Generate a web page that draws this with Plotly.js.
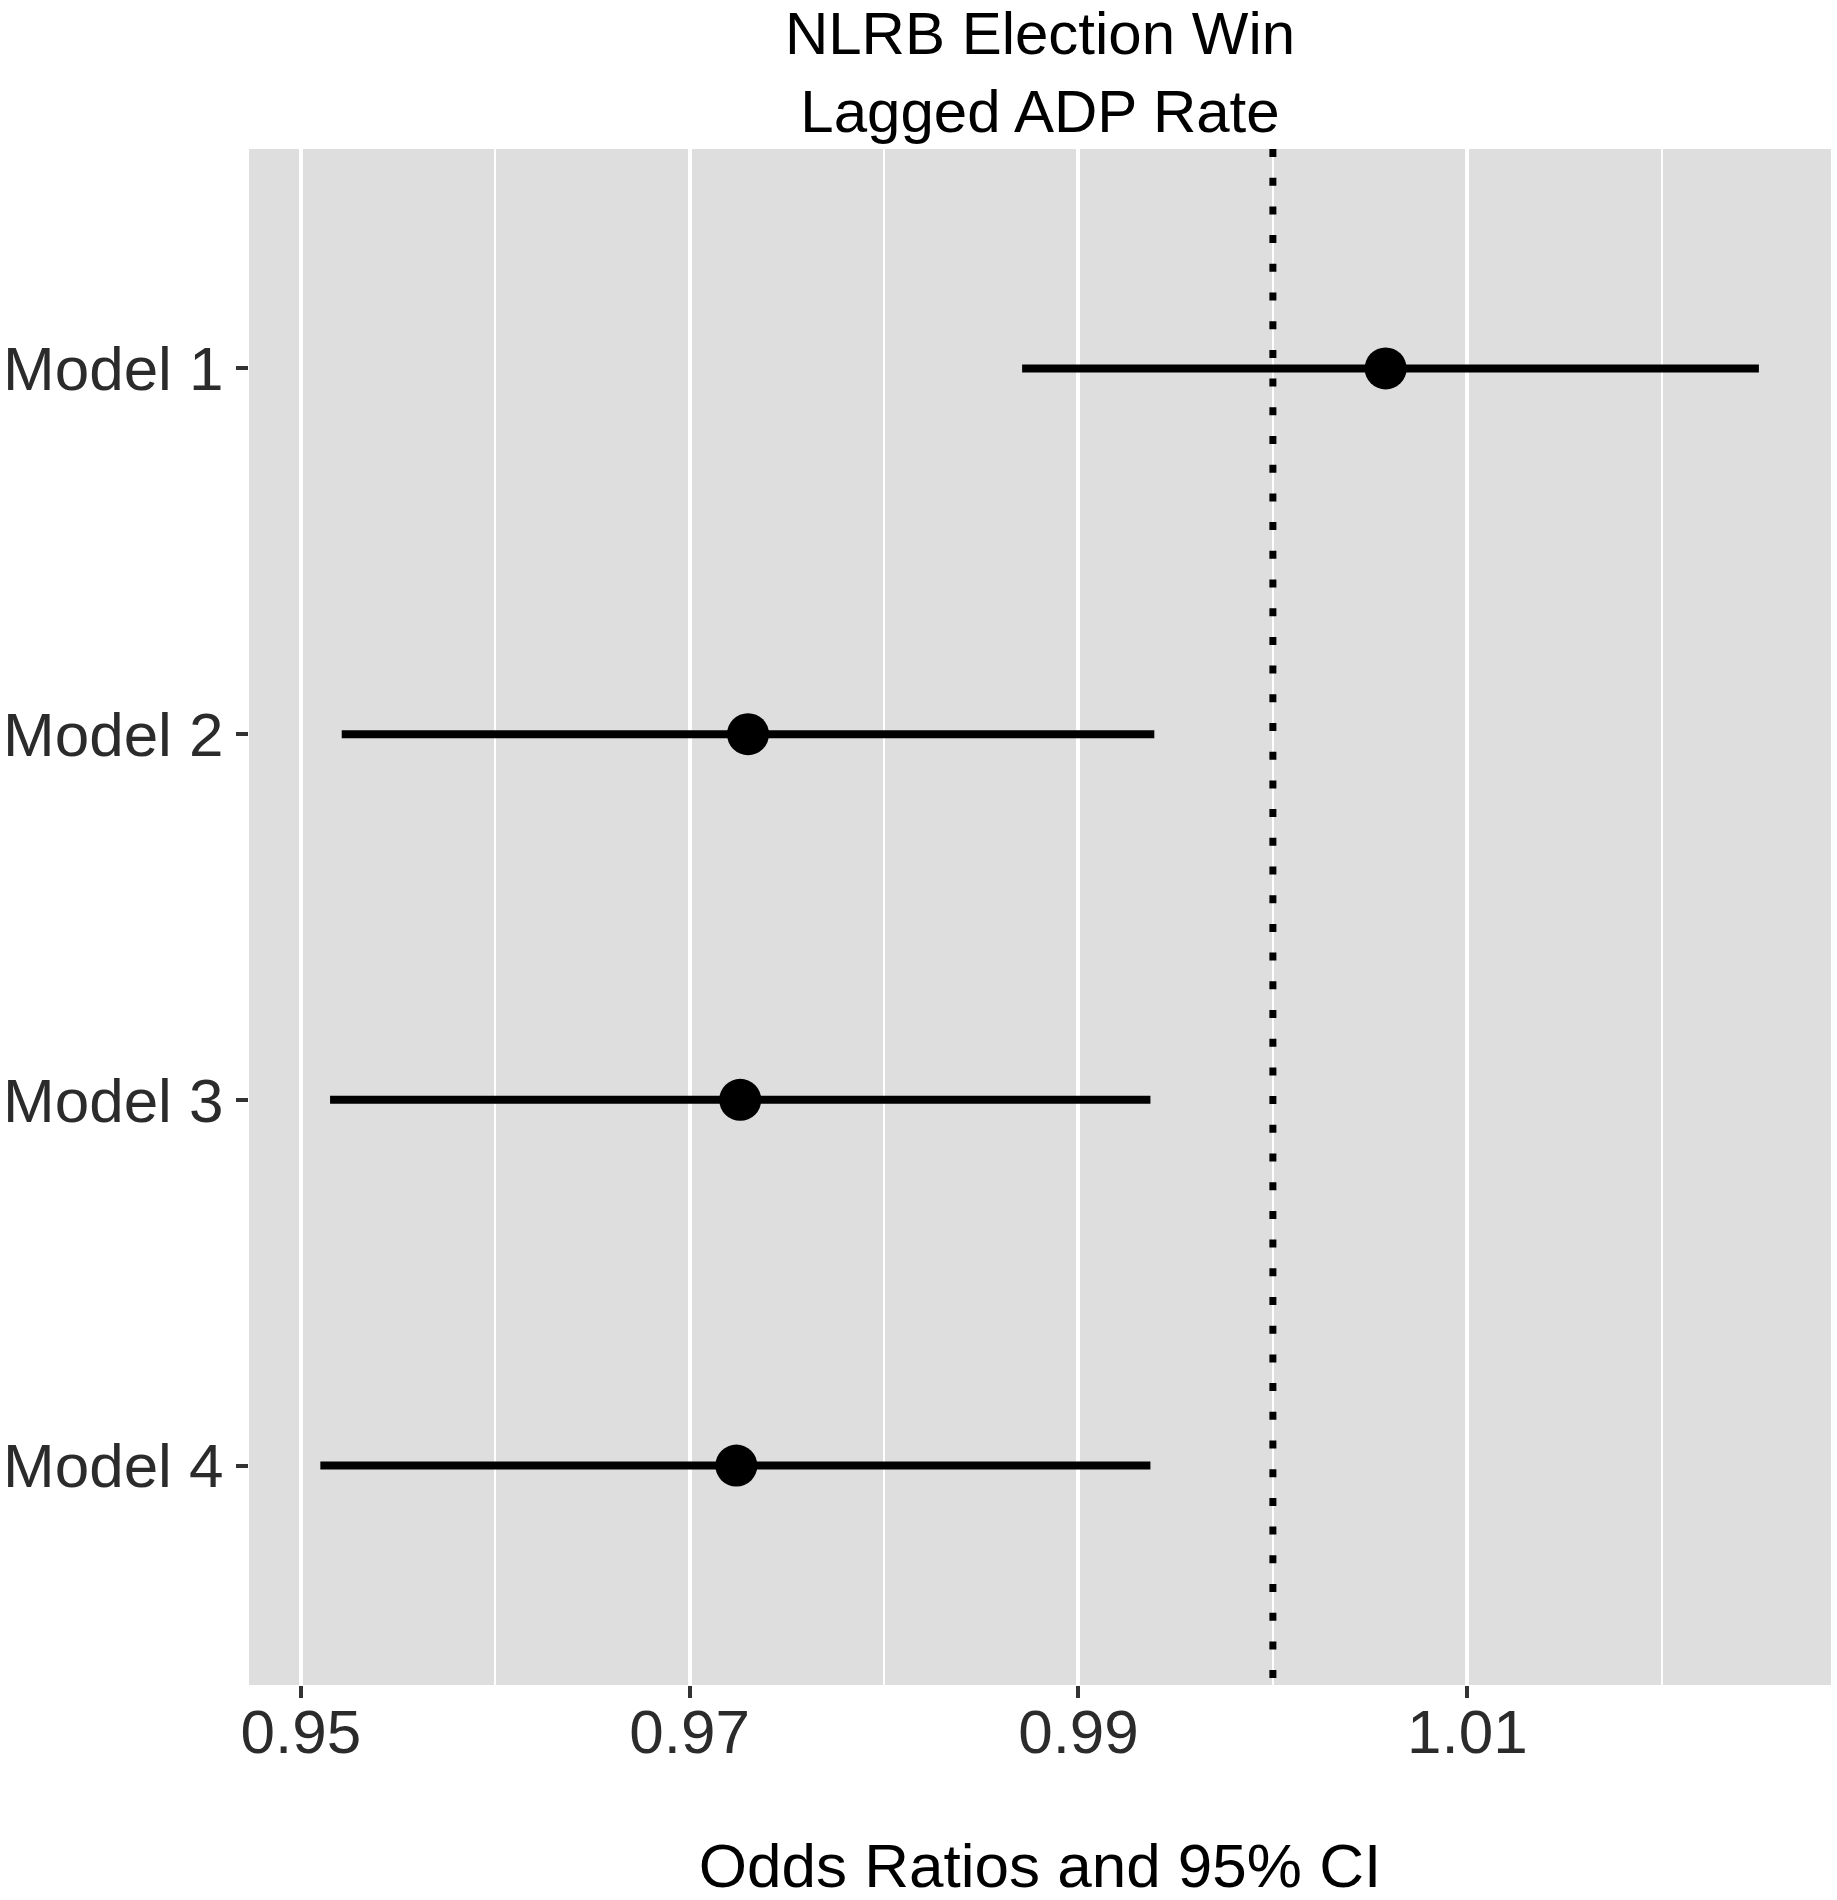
<!DOCTYPE html>
<html>
<head>
<meta charset="utf-8">
<script src="https://cdn.plot.ly/plotly-3.0.1.min.js"></script>
<style>html,body{margin:0;padding:0;background:#fff;}#chart{width:1837px;height:1900px;}</style>
</head>
<body>
<div id="chart"></div>
<script>
// Data
const models = ["Model 1", "Model 2", "Model 3", "Model 4"];
const oddsRatio = [1.0058, 0.9730, 0.9726, 0.9724];
const ciLower = [0.9871, 0.9521, 0.9515, 0.9510];
const ciUpper = [1.0250, 0.9939, 0.9937, 0.9937];
const referenceLine = 1.00;
const xTickVals = [0.95, 0.97, 0.99, 1.01];
const xTickText = ["0.95", "0.97", "0.99", "1.01"];

const FONT = "Liberation Sans, Arial, Helvetica, sans-serif";

const trace = {
  type: "scatter",
  mode: "markers",
  x: oddsRatio,
  y: models,
  marker: {size: 42, color: "#000000"},
  error_x: {
    type: "data",
    symmetric: false,
    array: oddsRatio.map((v, i) => ciUpper[i] - v),
    arrayminus: oddsRatio.map((v, i) => v - ciLower[i]),
    color: "#000000",
    thickness: 8,
    width: 0
  },
  hoverinfo: "x+y",
  showlegend: false
};

const layout = {
  width: 1837,
  height: 1900,
  paper_bgcolor: "#FFFFFF",
  plot_bgcolor: "#DEDEDE",
  margin: {l: 249, r: 6, t: 149, b: 215, pad: 0},
  font: {family: FONT, color: "#000000"},
  title: {
    text: "NLRB Election Win<br>Lagged ADP Rate",
    font: {family: FONT, size: 60, color: "#000000"},
    x: 0.5,
    xanchor: "center",
    xref: "paper",
    yref: "container",
    y: 0.9715,
    yanchor: "middle",
    pad: {t: 0, b: 0}
  },
  xaxis: {
    range: [0.94733, 1.02871],
    tickvals: xTickVals,
    ticktext: xTickText,
    ticks: "outside",
    ticklen: 12,
    tickwidth: 4,
    tickcolor: "#333333",
    tickfont: {family: FONT, size: 62, color: "#2b2b2b"},
    ticklabelstandoff: -19,
    showgrid: true,
    gridcolor: "#FFFFFF",
    gridwidth: 4.4,
    minor: {dtick: 0.01, tick0: 0.95, showgrid: true, gridcolor: "#FFFFFF", gridwidth: 2.2, ticks: ""},
    zeroline: false,
    showline: false,
    title: {
      text: "Odds Ratios and 95% CI",
      font: {family: FONT, size: 62, color: "#000000"},
      standoff: 121
    }
  },
  yaxis: {
    type: "category",
    categoryorder: "array",
    categoryarray: models.slice().reverse(),
    range: [-0.6, 3.6],
    ticks: "outside",
    ticklen: 12,
    tickwidth: 4,
    tickcolor: "#333333",
    tickfont: {family: FONT, size: 62, color: "#2b2b2b"},
    showgrid: false,
    zeroline: false,
    showline: false
  },
  shapes: [{
    type: "line",
    xref: "x",
    yref: "paper",
    x0: referenceLine,
    x1: referenceLine,
    y0: 1,
    y1: 0,
    line: {color: "#000000", width: 7, dash: "8px,20.7px"},
    layer: "above"
  }]
};

Plotly.newPlot("chart", [trace], layout, {displayModeBar: false, responsive: false});
</script>
</body>
</html>
